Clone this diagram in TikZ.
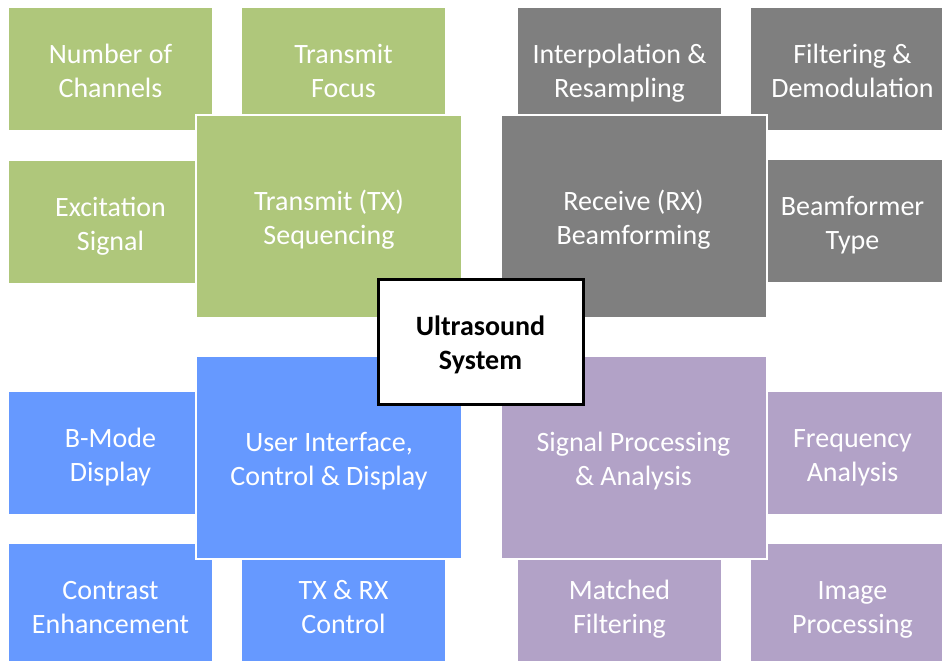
\documentclass[tikz,border=0pt]{standalone}
\usepackage{fontspec}
\setmainfont{Carlito}
\definecolor{txgreen}{HTML}{AFC77B}
\definecolor{rxgray}{HTML}{7F7F7F}
\definecolor{uiblue}{HTML}{6699FF}
\definecolor{sppurple}{HTML}{B2A2C7}
% line strut: 28.3pt above the baseline, 5.7pt below it
\newcommand{\linestrut}{\rule[-5.7pt]{0pt}{34pt}}
% two strut-padded lines, so every label is centred the same way
\newcommand{\twolines}[2]{\linestrut#1\\\linestrut#2}
\tikzset{
  smallbox/.style={rectangle, minimum width=203pt, minimum height=122pt,
    inner sep=0pt, align=center, text=white,
    font=\fontsize{28}{34}\selectfont},
  bigbox/.style={rectangle, minimum width=266pt, minimum height=203pt,
    inner sep=0pt, align=center, text=white, draw=white, line width=2pt,
    font=\fontsize{28}{34}\selectfont},
  corebox/.style={rectangle, minimum width=205pt, minimum height=125pt,
    inner sep=0pt, align=center, fill=white, draw=black, line width=3pt,
    font=\fontsize{28}{34}\selectfont\bfseries}
}
\begin{document}
\begin{tikzpicture}[x=1pt,y=1pt]
\useasboundingbox (0,0) rectangle (942,-661);
\clip (0,0) rectangle (942,-661);

% transmit side
\node[smallbox, fill=txgreen] (nch) at (110.5,-69) {\twolines{Number of}{Channels}};
\node[smallbox, fill=txgreen] (tfoc) at (343.5,-69) {\twolines{Transmit}{Focus}};
\node[smallbox, fill=txgreen] (exc) at (110.5,-222) {\twolines{Excitation}{Signal}};

% receive side
\node[smallbox, fill=rxgray] (interp) at (619.5,-69) {\twolines{Interpolation \&}{Resampling}};
\node[smallbox, fill=rxgray] (filt) at (852.5,-69) {\twolines{Filtering \&}{Demodulation}};
\node[smallbox, fill=rxgray] (bft) at (852.5,-221) {\twolines{Beamformer}{Type}};

% user interface side
\node[smallbox, fill=uiblue] (bmode) at (110.5,-453) {\twolines{B-Mode}{Display}};
\node[smallbox, fill=uiblue] (contr) at (110.5,-605) {\twolines{Contrast}{Enhancement}};
\node[smallbox, fill=uiblue] (txrx) at (343.5,-605) {\twolines{TX \& RX}{Control}};

% signal processing side
\node[smallbox, fill=sppurple] (freq) at (852.5,-453) {\twolines{Frequency}{Analysis}};
\node[smallbox, fill=sppurple] (match) at (619.5,-605) {\twolines{Matched}{Filtering}};
\node[smallbox, fill=sppurple] (imgp) at (852.5,-605) {\twolines{Image}{Processing}};

% main blocks
\node[bigbox, fill=txgreen] (tx) at (329,-216) {\twolines{Transmit (TX)}{Sequencing}};
\node[bigbox, fill=rxgray] (rx) at (633.5,-216) {\twolines{Receive (RX)}{Beamforming}};
\node[bigbox, fill=uiblue] (ui) at (329,-457) {\twolines{User Interface,}{Control \& Display}};
\node[bigbox, fill=sppurple] (sp) at (633.5,-457) {\twolines{Signal Processing}{\& Analysis}};

% central system block
\node[corebox] (sys) at (480.5,-341.5) {\twolines{Ultrasound}{System}};
\end{tikzpicture}
\end{document}
